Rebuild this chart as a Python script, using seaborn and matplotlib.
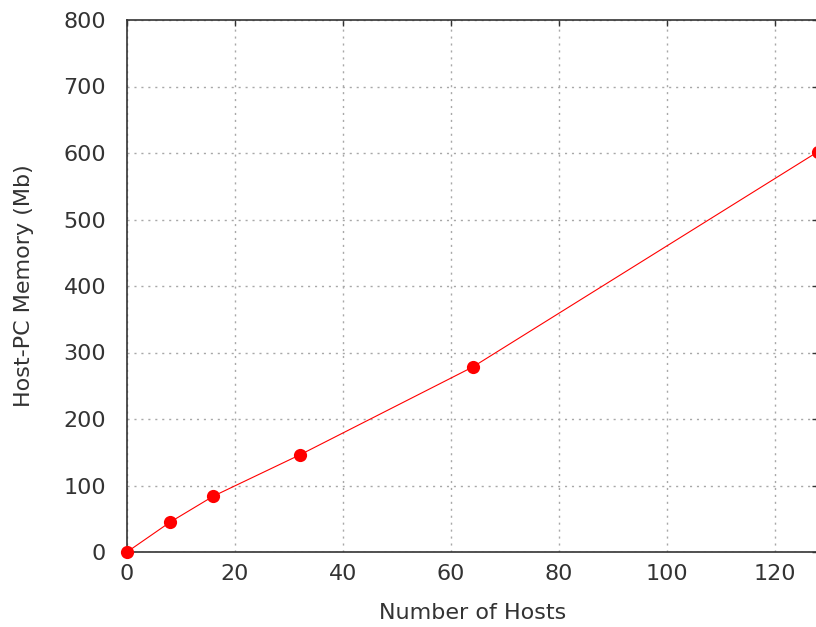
import pandas as pd
import seaborn as sns
import matplotlib
matplotlib.use('Agg')
import matplotlib.pyplot as plt

# data
hosts = [0, 8, 16, 32, 64, 128]
memory = [0, 45, 84, 146, 278, 602]

x_ticks = [0, 20, 40, 60, 80, 100, 120]
y_ticks = [0, 100, 200, 300, 400, 500, 600, 700, 800]

df = pd.DataFrame({'hosts': hosts, 'memory': memory})

sns.set_style('white')
plt.rcParams['font.family'] = ['DejaVu Sans']

fig = plt.figure(figsize=(8.16, 6.27), dpi=100)
# right edge sits just past the image border, as in the reference
ax = fig.add_axes([127 / 816, 1 - 552 / 627, (818 - 127) / 816, (552 - 20) / 627])

sns.lineplot(data=df, x='hosts', y='memory', ax=ax, color='#ff0000',
             linewidth=0.8, marker='o', markersize=9.5, markeredgewidth=0,
             clip_on=False, zorder=5)

ax.set_xlim(0, 128)
ax.set_ylim(0, 800)
ax.set_xticks(x_ticks)
ax.set_yticks(y_ticks)
ax.grid(True, linestyle=(0, (1.5, 3.5)), color='#a8a8a8', linewidth=1)

for side in ['left', 'bottom', 'top', 'right']:
    ax.spines[side].set_color('#333333')
    ax.spines[side].set_linewidth(1.2)

ax.tick_params(direction='in', length=4.5, width=1, colors='#333333',
               labelsize=16, top=True, right=True)
ax.tick_params(axis='x', pad=9)
ax.tick_params(axis='y', pad=15)
for lbl in ax.get_xticklabels() + ax.get_yticklabels():
    lbl.set_color('#333333')

ax.set_xlabel('Number of Hosts', fontsize=16, color='#333333', labelpad=13)
ax.set_ylabel('Host-PC Memory (Mb)', fontsize=16, color='#333333', labelpad=21)

fig.savefig('out.png', dpi=100)
